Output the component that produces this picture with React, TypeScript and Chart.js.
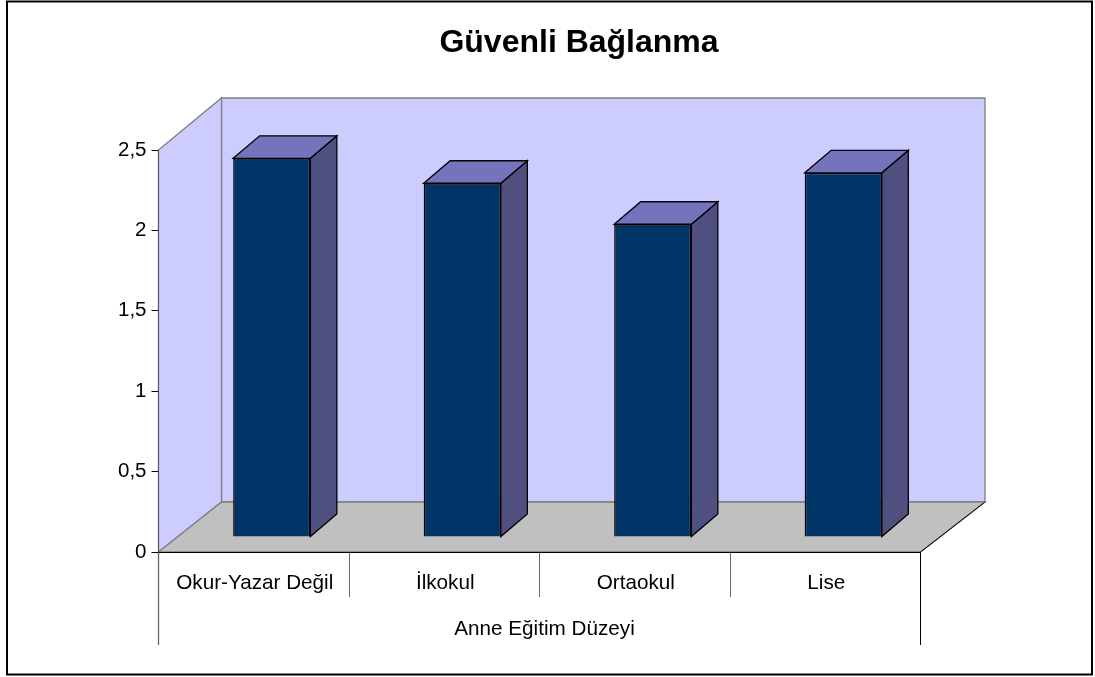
import React, { useEffect, useRef } from "react";
import { Chart, registerables } from "chart.js";

Chart.register(...registerables);

const categories = ["Okur-Yazar Değil", "İlkokul", "Ortaokul", "Lise"];
const values = [2.355, 2.2, 1.945, 2.265];
const yTickLabels: Record<string, string> = { "0": "0", "0.5": "0,5", "1": "1", "1.5": "1,5", "2": "2", "2.5": "2,5" };
const chartTitle = "Güvenli Bağlanma";
const xAxisTitle = "Anne Eğitim Düzeyi";
const FONT = "'Liberation Sans', Arial, sans-serif";

const wallDepth = { x: 63, xRight: 64.5, y: -50, yTop: -52 };
const barDepth = { x: 26.5, y: -22.5 };
const barShift = { x: 18, y: -15 };

function poly(ctx: CanvasRenderingContext2D, pts: number[][], fill: string | null, stroke: string | null, lw = 1) {
  ctx.beginPath();
  pts.forEach((p, i) => (i ? ctx.lineTo(p[0], p[1]) : ctx.moveTo(p[0], p[1])));
  ctx.closePath();
  if (fill) { ctx.fillStyle = fill; ctx.fill(); }
  if (stroke) { ctx.strokeStyle = stroke; ctx.lineWidth = lw; ctx.lineJoin = "miter"; ctx.stroke(); }
}

const scene3d = {
  id: "scene3d",
  afterLayout(chart: any) {
    // title is centred over the whole plot, not the canvas
    chart.titleBlock.left = 63;
    chart.titleBlock.right = 1095;
    const s = chart.scales.x;
    if (!s.__patched) {
      s.__patched = true;
      const orig = s.drawTitle;
      s.drawTitle = function () {
        chart.ctx.save();
        chart.ctx.translate(5, 0);
        orig.call(this);
        chart.ctx.restore();
      };
    }
  },
  beforeDraw(chart: any) {
    const { ctx, chartArea: a } = chart;
    const dx = wallDepth.x, dxr = wallDepth.xRight, dy = wallDepth.y, dyt = wallDepth.yTop;
    ctx.save();
    ctx.fillStyle = "#ffffff";
    ctx.fillRect(0, 0, chart.width, chart.height);
    ctx.strokeStyle = "#000000";
    ctx.lineWidth = 2;
    ctx.strokeRect(7, 1.5, 1085, 673);
    // back wall, left wall, floor
    poly(ctx, [[a.left + dx, a.top + dyt], [a.right + dxr, a.top + dyt], [a.right + dxr, a.bottom + dy], [a.left + dx, a.bottom + dy]], "#ccccff", "#808080", 1.3);
    poly(ctx, [[a.left, a.top], [a.left + dx, a.top + dyt], [a.left + dx, a.bottom + dy], [a.left, a.bottom]], "#ccccff", "#808080", 1.3);
    poly(ctx, [[a.left, a.bottom], [a.left + dx, a.bottom + dy], [a.right + dxr, a.bottom + dy], [a.right, a.bottom]], "#c0c0c0", "#808080", 1.3);
    // outer group brackets under the axis
    ctx.lineWidth = 1.3;
    ctx.strokeStyle = "#666666";
    ctx.beginPath();
    ctx.moveTo(a.left, a.bottom);
    ctx.lineTo(a.left, 645);
    ctx.stroke();
    ctx.lineWidth = 1;
    ctx.strokeStyle = "#000000";
    ctx.beginPath();
    ctx.moveTo(Math.round(a.right) + 0.5 - 1, a.bottom);
    ctx.lineTo(Math.round(a.right) + 0.5 - 1, 645);
    ctx.moveTo(a.right, a.bottom);
    ctx.lineTo(a.right + dxr, a.bottom + dy);
    ctx.stroke();
    ctx.restore();
  },
  beforeDatasetDraw(chart: any, args: any) {
    const ctx = chart.ctx;
    ctx.save();
    ctx.translate(barShift.x, barShift.y);
    args.meta.data.forEach((el: any) => {
      const { x, y, base, width } = el.getProps(["x", "y", "base", "width"], true);
      const l = x - width / 2, r = x + width / 2;
      const dx = barDepth.x, dy = barDepth.y;
      poly(ctx, [[r, y], [r + dx, y + dy], [r + dx, base + dy], [r, base]], "#4f4f80", "#000000", 1.3);
      poly(ctx, [[l, y], [l + dx, y + dy], [r + dx, y + dy], [r, y]], "#7474bd", "#000000", 1.3);
    });
  },
  afterDatasetDraw(chart: any) {
    chart.ctx.restore();
  },
};

export default function App() {
  const ref = useRef<HTMLCanvasElement>(null);
  useEffect(() => {
    const chart = new Chart(ref.current as HTMLCanvasElement, {
      type: "bar",
      data: {
        labels: categories,
        datasets: [
          {
            label: chartTitle,
            data: values,
            backgroundColor: "#003366",
            borderColor: "#000000",
            borderWidth: 1.5,
            categoryPercentage: 1,
            barPercentage: 0.405,
            clip: false,
          } as any,
        ],
      },
      options: {
        responsive: false,
        animation: false,
        layout: { padding: { left: 0, right: 174.5, top: 0, bottom: 0 } },
        plugins: {
          legend: { display: false },
          tooltip: { enabled: false },
          title: {
            display: true,
            text: chartTitle,
            color: "#000000",
            font: { family: FONT, size: 32, weight: "bold", lineHeight: 1.2 },
            padding: { top: 23.8, bottom: 87.8 },
          },
        },
        scales: {
          x: {
            afterFit(scale: any) { scale.height = 125; },
            grid: {
              drawOnChartArea: false,
              offset: true,
              tickLength: 45,
              tickColor: (c: any) => (c.index === undefined || c.index === 0 ? "rgba(0,0,0,0)" : "#666666"),
            },
            border: { color: "#000000", width: 1 },
            ticks: { color: "#000000", font: { family: FONT, size: 20.7 }, padding: -26, maxRotation: 0, autoSkip: false, labelOffset: 1 },
            title: {
              display: true,
              text: xAxisTitle,
              color: "#000000",
              font: { family: FONT, size: 20.7 },
              padding: { top: 0, bottom: 35 },
            },
          },
          y: {
            min: 0,
            max: 2.5,
            afterFit(scale: any) { scale.width = 158.5; },
            grid: { drawOnChartArea: false, tickLength: 7, tickColor: "#000000" },
            border: { color: "#555555", width: 1 },
            ticks: {
              stepSize: 0.5,
              color: "#000000",
              font: { family: FONT, size: 20.5 },
              padding: 5,
              callback: (v: any) => yTickLabels[String(v)],
            },
          },
        },
      },
      plugins: [scene3d],
    } as any);
    return () => chart.destroy();
  }, []);
  return (
    <div style={{ position: "absolute", left: 0, top: 0, width: 1095, height: 677 }}>
      <canvas ref={ref} width={1095} height={677} style={{ display: "block" }} />
    </div>
  );
}
